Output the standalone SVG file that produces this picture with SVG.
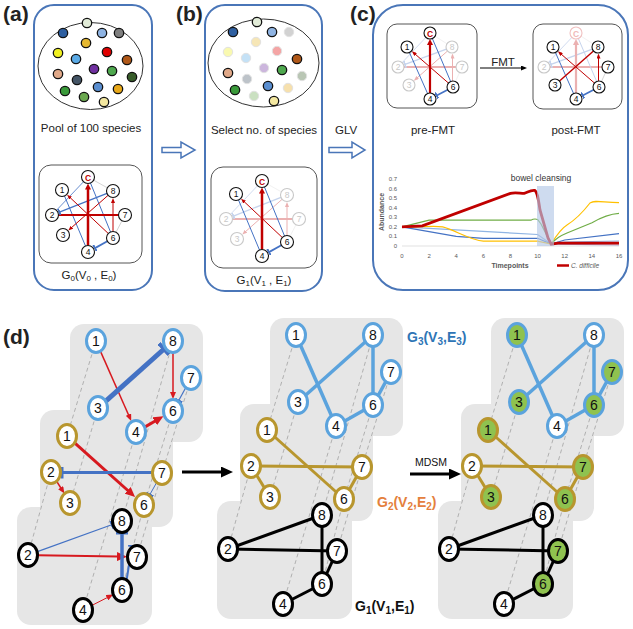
<svg xmlns="http://www.w3.org/2000/svg" width="633" height="629" viewBox="0 0 633 629">
<defs>
<style>
text{font-family:"Liberation Sans",Arial,sans-serif}
.panel{fill:none;stroke:#4a76b8;stroke-width:2}
.lbl{font-size:21px;font-weight:bold;fill:#222}
.cap{font-size:11.5px;fill:#222;text-anchor:middle}
.pool{fill:none;stroke:#333;stroke-width:1}
.dot{stroke:#111;stroke-width:1.3}
.fdot{stroke:#aaa;stroke-width:1;opacity:.35}
.ibox{fill:#fff;stroke:#555;stroke-width:1}
.sn circle{fill:#fff;stroke:#111;stroke-width:1.1}
.sn text{font-size:8.5px;text-anchor:middle;fill:#111}
.sn.c text{fill:#c00000;font-weight:bold}
.sn.f circle{stroke:#c8c8c8}
.sn.f text{fill:#c8c8c8}
.sn.fc circle{stroke:#f0c0c0}
.sn.fc text{fill:#f0b8b8;font-weight:bold}
.sr{stroke:#c00000;fill:none}
.sb{stroke:#4472c4;fill:none}
.sl{stroke:#c8c8c8;fill:none}
.box{fill:#e6e6e6}
.dash{stroke:#b0b0b0;stroke-width:1;stroke-dasharray:4 3;fill:none}
.dr{stroke:#d7191f;fill:none}
.db{stroke:#4472c4;fill:none}
.n ellipse{fill:#fff;stroke-width:3}
.n text{font-size:14px;text-anchor:middle;fill:#111}
.g3 ellipse{stroke:#5ba3dd}
.g2 ellipse{stroke:#b8962e}
.g1 ellipse{stroke:#000}
.n.gr ellipse{fill:#8fc24f}
.e3{stroke:#5ba3dd;stroke-width:3.5;fill:none}
.e2{stroke:#b8962e;stroke-width:3;fill:none}
.e1{stroke:#000;stroke-width:3;fill:none}
.tick{font-size:6px;fill:#595959}
</style>
<marker id="arS" viewBox="0 0 7 6" markerWidth="7" markerHeight="6" refX="1" refY="3" orient="auto" markerUnits="userSpaceOnUse"><path d="M0,0 L7,3 L0,6 z" fill="#d7191f"/></marker>
<marker id="arM" viewBox="0 0 10 9" markerWidth="10" markerHeight="9" refX="1" refY="4.5" orient="auto" markerUnits="userSpaceOnUse"><path d="M0,0 L10,4.5 L0,9 z" fill="#d7191f"/></marker>
<marker id="barS" viewBox="0 0 2 8" markerWidth="2" markerHeight="8" refX="1" refY="4" orient="auto" markerUnits="userSpaceOnUse"><rect x="0" y="0" width="2" height="8" fill="#4472c4"/></marker>
<marker id="barM" viewBox="0 0 3 12" markerWidth="3" markerHeight="12" refX="1.5" refY="6" orient="auto" markerUnits="userSpaceOnUse"><rect x="0" y="0" width="3" height="12" fill="#4472c4"/></marker>
<marker id="barL" viewBox="0 0 4 15" markerWidth="4" markerHeight="15" refX="2" refY="7.5" orient="auto" markerUnits="userSpaceOnUse"><rect x="0" y="0" width="4" height="15" fill="#4472c4"/></marker>
<marker id="arT" viewBox="0 0 5 4" markerWidth="5" markerHeight="4" refX="1" refY="2" orient="auto" markerUnits="userSpaceOnUse"><path d="M0,0 L5,2 L0,4 z" fill="#c00000"/></marker>
<marker id="arT2" viewBox="0 0 6 6" markerWidth="6" markerHeight="6" refX="1" refY="3" orient="auto" markerUnits="userSpaceOnUse"><path d="M0,0 L6,3 L0,6 z" fill="#c00000"/></marker>
<marker id="barT" viewBox="0 0 2 7" markerWidth="2" markerHeight="7" refX="1" refY="3.5" orient="auto" markerUnits="userSpaceOnUse"><rect x="0" y="0" width="2" height="7" fill="#4472c4"/></marker>
<marker id="arK" viewBox="0 0 12 11" markerWidth="12" markerHeight="11" refX="1" refY="5.5" orient="auto" markerUnits="userSpaceOnUse"><path d="M0,0 L12,5.5 L0,11 z" fill="#000"/></marker>
<marker id="arK2" viewBox="0 0 6 5" markerWidth="6" markerHeight="5" refX="1" refY="2.5" orient="auto" markerUnits="userSpaceOnUse"><path d="M0,0 L6,2.5 L0,5 z" fill="#000"/></marker>
</defs>
<rect width="633" height="629" fill="#fff"/>

<!-- Panel labels -->
<text class="lbl" x="3" y="21">(a)</text>
<text class="lbl" x="176" y="21">(b)</text>
<text class="lbl" x="350" y="21">(c)</text>
<text class="lbl" x="3" y="344">(d)</text>

<!-- Panel (a) -->
<g id="panel-a">
<rect class="panel" x="34" y="5" width="118" height="285" rx="20"/>
<ellipse class="pool" cx="90.5" cy="66" rx="52.5" ry="43.5"/>
<g id="pool-a">
<circle class="dot" cx="87" cy="23" r="4.7" fill="#e2ecd8"/>
<circle class="dot" cx="63" cy="33" r="4.7" fill="#2e5fa0"/>
<circle class="dot" cx="102" cy="33" r="4.7" fill="#8fb4e3"/>
<circle class="dot" cx="119" cy="33" r="4.7" fill="#7f7f7f"/>
<circle class="dot" cx="86" cy="43" r="4.7" fill="#e6b830"/>
<circle class="dot" cx="58" cy="53" r="4.7" fill="#f0f020"/>
<circle class="dot" cx="107" cy="52" r="4.7" fill="#e00000"/>
<circle class="dot" cx="127" cy="60" r="4.7" fill="#b05818"/>
<circle class="dot" cx="76" cy="59" r="4.7" fill="#5aaae6"/>
<circle class="dot" cx="94" cy="69" r="4.7" fill="#7030a0"/>
<circle class="dot" cx="112" cy="71" r="4.7" fill="#4ea84e"/>
<circle class="dot" cx="132" cy="77" r="4.7" fill="#385d2a"/>
<circle class="dot" cx="58" cy="74" r="4.7" fill="#e0a888"/>
<circle class="dot" cx="77" cy="80" r="4.7" fill="#445566"/>
<circle class="dot" cx="98" cy="87" r="4.7" fill="#5a8ed0"/>
<circle class="dot" cx="118" cy="89" r="4.7" fill="#e8a818"/>
<circle class="dot" cx="65" cy="91" r="4.7" fill="#3a9a3a"/>
<circle class="dot" cx="84" cy="97" r="4.7" fill="#6aa84f"/>
<circle class="dot" cx="104" cy="102" r="4.7" fill="#f4e8a0"/>
</g>
<text class="cap" x="91" y="132">Pool of 100 species</text>
<rect class="ibox" x="39" y="165" width="103" height="98" rx="12"/>
<g id="edges-a">
<line class="sl" x1="88" y1="177" x2="113" y2="191" stroke-width="0.8"/>
<line class="sl" x1="125" y1="215" x2="113" y2="238" stroke-width="0.8"/>
<line class="sb" x1="88" y1="177" x2="52" y2="215" stroke-width="0.8" stroke="#a8bce0"/>
<line class="sb" x1="88" y1="177" x2="113" y2="238" stroke-width="1" stroke="#7f9fd0"/>
<line class="sb" x1="62" y1="190" x2="88" y2="252" stroke-width="1" stroke="#7f9fd0"/>
<line class="sr" x1="58.5" y1="215" x2="118.5" y2="215" stroke-width="2" stroke="#d04848"/>
<line class="sb" x1="107" y1="193.4" x2="59.4" y2="212.1" stroke-width="1.2" marker-end="url(#barT)"/>
<line class="sr" x1="108.3" y1="233.5" x2="70" y2="197.5" stroke-width="1" marker-end="url(#arT)"/>
<line class="sr" x1="108.1" y1="195.3" x2="71.3" y2="227.8" stroke-width="1" marker-end="url(#arT)"/>
<line class="sr" x1="113" y1="231.5" x2="113" y2="202" stroke-width="1" marker-end="url(#arT)"/>
<line class="sr" x1="88" y1="245.5" x2="88" y2="188.5" stroke-width="2.5" marker-end="url(#arT2)"/>
<line class="sb" x1="107.3" y1="241.2" x2="95" y2="248.1" stroke-width="1.8" marker-end="url(#barT)"/>
</g>
<g id="a-nC" class="sn c"><circle cx="88" cy="177" r="6.5"/><text x="88" y="180.5">C</text></g>
<g id="a-n1" class="sn"><circle cx="62" cy="190" r="6.5"/><text x="62" y="193">1</text></g>
<g id="a-n8" class="sn"><circle cx="113" cy="191" r="6.5"/><text x="113" y="194">8</text></g>
<g id="a-n2" class="sn"><circle cx="52" cy="215" r="6.5"/><text x="52" y="218">2</text></g>
<g id="a-n7" class="sn"><circle cx="125" cy="215" r="6.5"/><text x="125" y="218">7</text></g>
<g id="a-n3" class="sn"><circle cx="63" cy="235" r="6.5"/><text x="63" y="238">3</text></g>
<g id="a-n6" class="sn"><circle cx="113" cy="238" r="6.5"/><text x="113" y="241">6</text></g>
<g id="a-n4" class="sn"><circle cx="88" cy="252" r="6.5"/><text x="88" y="255">4</text></g>
<text class="cap" x="89" y="279">G<tspan font-size="8" dy="2">0</tspan><tspan dy="-2">(V</tspan><tspan font-size="8" dy="2">0</tspan><tspan dy="-2"> , E</tspan><tspan font-size="8" dy="2">0</tspan><tspan dy="-2">)</tspan></text>
</g>

<!-- arrow a->b -->
<path id="arrow-ab" d="M162,147.5 H181 V142 L195,150 L181,158 V152.5 H162 Z" fill="#fff" stroke="#4a76b8" stroke-width="1.5"/>

<!-- Panel (b) -->
<g id="panel-b">
<rect class="panel" x="205" y="5" width="117" height="286" rx="20"/>
<ellipse class="pool" cx="263.5" cy="63" rx="55.5" ry="44"/>
<g id="pool-b" transform="translate(170,-1)">
<circle class="dot" cx="87" cy="23" r="4.7" fill="#e2ecd8"/>
<circle class="dot" cx="63" cy="33" r="4.7" fill="#2e5fa0"/>
<circle class="dot" cx="102" cy="33" r="4.7" fill="#8fb4e3"/>
<circle class="fdot" cx="119" cy="33" r="4.7" fill="#7f7f7f"/>
<circle class="fdot" cx="86" cy="43" r="4.7" fill="#e6b830"/>
<circle class="fdot" cx="58" cy="53" r="4.7" fill="#f0f020"/>
<circle class="fdot" cx="107" cy="52" r="4.7" fill="#e00000"/>
<circle class="dot" cx="127" cy="60" r="4.7" fill="#b05818"/>
<circle class="fdot" cx="76" cy="59" r="4.7" fill="#5aaae6"/>
<circle class="fdot" cx="94" cy="69" r="4.7" fill="#7030a0"/>
<circle class="dot" cx="112" cy="71" r="4.7" fill="#4ea84e"/>
<circle class="fdot" cx="132" cy="77" r="4.7" fill="#385d2a"/>
<circle class="dot" cx="58" cy="74" r="4.7" fill="#e0a888"/>
<circle class="fdot" cx="77" cy="80" r="4.7" fill="#445566"/>
<circle class="dot" cx="98" cy="87" r="4.7" fill="#5a8ed0"/>
<circle class="fdot" cx="118" cy="89" r="4.7" fill="#e8a818"/>
<circle class="dot" cx="65" cy="91" r="4.7" fill="#3a9a3a"/>
<circle class="fdot" cx="84" cy="97" r="4.7" fill="#6aa84f"/>
<circle class="dot" cx="104" cy="102" r="4.7" fill="#f4e8a0"/>
</g>
<text class="cap" x="264" y="134">Select no. of species</text>
<rect class="ibox" x="211" y="167" width="106" height="101" rx="12"/>
<g transform="translate(174,4)">
<g id="edges-b">
<g opacity="0.3">
<line class="sl" x1="88" y1="177" x2="113" y2="191" stroke-width="0.8"/>
<line class="sl" x1="125" y1="215" x2="113" y2="238" stroke-width="0.8"/>
<line class="sb" x1="88" y1="177" x2="52" y2="215" stroke-width="0.8" stroke="#a8bce0"/>
<line class="sr" x1="58.5" y1="215" x2="118.5" y2="215" stroke-width="2" stroke="#d04848"/>
<line class="sb" x1="107" y1="193.4" x2="59.4" y2="212.1" stroke-width="1.2" marker-end="url(#barT)"/>
<line class="sr" x1="108.1" y1="195.3" x2="71.3" y2="227.8" stroke-width="1" marker-end="url(#arT)"/>
<line class="sr" x1="113" y1="231.5" x2="113" y2="202" stroke-width="1" marker-end="url(#arT)"/>
</g>
<line class="sb" x1="88" y1="177" x2="113" y2="238" stroke-width="1" stroke="#6a8cc8"/>
<line class="sb" x1="62" y1="190" x2="88" y2="252" stroke-width="1" stroke="#8aa4d4"/>
<line class="sr" x1="108.3" y1="233.5" x2="70" y2="197.5" stroke-width="1" stroke="#d08080" marker-end="url(#arT)"/>
<line class="sr" x1="88" y1="245.5" x2="88" y2="188.5" stroke-width="2.5" marker-end="url(#arT2)"/>
<line class="sb" x1="107.3" y1="241.2" x2="95" y2="248.1" stroke-width="1.8" marker-end="url(#barT)"/>
</g>
<g id="b-nC" class="sn c"><circle cx="88" cy="177" r="6.5"/><text x="88" y="180.5">C</text></g>
<g id="b-n1" class="sn"><circle cx="62" cy="190" r="6.5"/><text x="62" y="193">1</text></g>
<g id="b-n8" class="sn f"><circle cx="113" cy="191" r="6.5"/><text x="113" y="194">8</text></g>
<g id="b-n2" class="sn f"><circle cx="52" cy="215" r="6.5"/><text x="52" y="218">2</text></g>
<g id="b-n7" class="sn f"><circle cx="125" cy="215" r="6.5"/><text x="125" y="218">7</text></g>
<g id="b-n3" class="sn f"><circle cx="63" cy="235" r="6.5"/><text x="63" y="238">3</text></g>
<g id="b-n6" class="sn"><circle cx="113" cy="238" r="6.5"/><text x="113" y="241">6</text></g>
<g id="b-n4" class="sn"><circle cx="88" cy="252" r="6.5"/><text x="88" y="255">4</text></g>
</g>
<text class="cap" x="264" y="284">G<tspan font-size="8" dy="2">1</tspan><tspan dy="-2">(V</tspan><tspan font-size="8" dy="2">1</tspan><tspan dy="-2"> , E</tspan><tspan font-size="8" dy="2">1</tspan><tspan dy="-2">)</tspan></text>
</g>

<!-- arrow b->c -->
<text x="335" y="134" font-size="11.5" fill="#222">GLV</text>
<path id="arrow-bc" d="M329,147.5 H352 V142 L365,150 L352,158 V152.5 H329 Z" fill="#fff" stroke="#4a76b8" stroke-width="1.5"/>

<!-- Panel (c) -->
<g id="panel-c">
<rect class="panel" x="373" y="5" width="255" height="285" rx="30"/>
<rect class="ibox" x="387" y="24" width="90" height="84" rx="10"/>
<rect class="ibox" x="533" y="24" width="89" height="85" rx="10"/>
<g id="pre-fmt">
<g id="edges-pre">
<g opacity="0.3">
<line class="sl" x1="430" y1="33" x2="452" y2="47" stroke-width="0.8"/>
<line class="sl" x1="462" y1="67" x2="453" y2="87" stroke-width="0.8"/>
<line class="sb" x1="430" y1="33" x2="398" y2="67" stroke-width="0.8" stroke="#a8bce0"/>
<line class="sr" x1="404" y1="67" x2="456" y2="67" stroke-width="2" stroke="#d04848"/>
<line class="sb" x1="446.4" y1="49.1" x2="405" y2="64.4" stroke-width="1.2" marker-end="url(#barT)"/>
<line class="sr" x1="447.5" y1="51" x2="416.9" y2="78.1" stroke-width="1" marker-end="url(#arT)"/>
<line class="sr" x1="452.5" y1="81" x2="452.5" y2="57.5" stroke-width="1" marker-end="url(#arT)"/>
</g>
<line class="sb" x1="430" y1="33" x2="453" y2="87" stroke-width="1" stroke="#6a8cc8"/>
<line class="sb" x1="407" y1="47" x2="430" y2="99" stroke-width="1" stroke="#8aa4d4"/>
<line class="sr" x1="448.5" y1="83.1" x2="414.9" y2="53.9" stroke-width="1" stroke="#d08080" marker-end="url(#arT)"/>
<line class="sr" x1="430" y1="93" x2="430" y2="44" stroke-width="2.2" marker-end="url(#arT2)"/>
<line class="sb" x1="447.7" y1="89.8" x2="436.7" y2="95.5" stroke-width="1.6" marker-end="url(#barT)"/>
</g>
<g id="pre-nC" class="sn c"><circle cx="430" cy="33" r="6"/><text x="430" y="36.5">C</text></g>
<g id="pre-n1" class="sn"><circle cx="407" cy="47" r="6"/><text x="407" y="50">1</text></g>
<g id="pre-n8" class="sn f"><circle cx="452" cy="47" r="6"/><text x="452" y="50">8</text></g>
<g id="pre-n2" class="sn f"><circle cx="398" cy="67" r="6"/><text x="398" y="70">2</text></g>
<g id="pre-n7" class="sn f"><circle cx="462" cy="67" r="6"/><text x="462" y="70">7</text></g>
<g id="pre-n3" class="sn f"><circle cx="409" cy="85" r="6"/><text x="409" y="88">3</text></g>
<g id="pre-n6" class="sn"><circle cx="453" cy="87" r="6"/><text x="453" y="90">6</text></g>
<g id="pre-n4" class="sn"><circle cx="430" cy="99" r="6"/><text x="430" y="102">4</text></g>
</g>
<g id="post-fmt" transform="translate(146,0)">
<g id="edges-post">
<g opacity="0.3">
<line class="sl" x1="430" y1="33" x2="452" y2="47" stroke-width="0.8"/>
<line class="sb" x1="430" y1="33" x2="398" y2="67" stroke-width="0.8" stroke="#a8bce0"/>
<line class="sr" x1="404" y1="67" x2="456" y2="67" stroke-width="2" stroke="#d04848"/>
<line class="sb" x1="446.4" y1="49.1" x2="405" y2="64.4" stroke-width="1.2" marker-end="url(#barT)"/>
<line class="sb" x1="430" y1="33" x2="453" y2="87" stroke-width="1" stroke="#6a8cc8"/>
<line class="sr" x1="430" y1="93" x2="430" y2="44" stroke-width="2.2" marker-end="url(#arT2)"/>
</g>
<line class="sl" x1="462" y1="67" x2="453" y2="87" stroke-width="0.8"/>
<line class="sb" x1="407" y1="47" x2="430" y2="99" stroke-width="1" stroke="#8aa4d4"/>
<line class="sr" x1="448.5" y1="83.1" x2="414.9" y2="53.9" stroke-width="1" stroke="#d08080" marker-end="url(#arT)"/>
<line class="sr" x1="447.5" y1="51" x2="413.5" y2="81" stroke-width="1.4"/>
<line class="sr" x1="452.5" y1="81" x2="452.5" y2="57.5" stroke-width="1" marker-end="url(#arT)"/>
<line class="sb" x1="447.7" y1="89.8" x2="436.7" y2="95.5" stroke-width="1.6" marker-end="url(#barT)"/>
</g>
<g id="post-nC" class="sn fc"><circle cx="430" cy="33" r="6"/><text x="430" y="36.5">C</text></g>
<g id="post-n1" class="sn"><circle cx="407" cy="47" r="6"/><text x="407" y="50">1</text></g>
<g id="post-n8" class="sn"><circle cx="452" cy="47" r="6"/><text x="452" y="50">8</text></g>
<g id="post-n2" class="sn f"><circle cx="398" cy="67" r="6"/><text x="398" y="70">2</text></g>
<g id="post-n7" class="sn"><circle cx="462" cy="67" r="6"/><text x="462" y="70">7</text></g>
<g id="post-n3" class="sn"><circle cx="409" cy="85" r="6"/><text x="409" y="88">3</text></g>
<g id="post-n6" class="sn"><circle cx="453" cy="87" r="6"/><text x="453" y="90">6</text></g>
<g id="post-n4" class="sn"><circle cx="430" cy="99" r="6"/><text x="430" y="102">4</text></g>
</g>
<text x="503" y="66" font-size="11.5" text-anchor="middle" fill="#222">FMT</text>
<line x1="480" y1="68" x2="522" y2="68" stroke="#000" stroke-width="1" marker-end="url(#arK2)"/>
<text class="cap" x="433" y="134" font-size="12">pre-FMT</text>
<text class="cap" x="576" y="134" font-size="12">post-FMT</text>

<!-- chart -->
<g id="chart">
<line x1="402" y1="246" x2="619" y2="246" stroke="#d9d9d9" stroke-width="0.8"/>
<g class="tick" text-anchor="end">
<text x="397" y="248">0</text><text x="397" y="238.4">0.1</text><text x="397" y="228.9">0.2</text><text x="397" y="219.3">0.3</text><text x="397" y="209.7">0.4</text><text x="397" y="200.2">0.5</text><text x="397" y="190.6">0.6</text><text x="397" y="181">0.7</text>
</g>
<g class="tick" text-anchor="middle">
<text x="402" y="258">0</text><text x="429.1" y="258">2</text><text x="456.2" y="258">4</text><text x="483.4" y="258">6</text><text x="510.5" y="258">8</text><text x="537.6" y="258">10</text><text x="564.7" y="258">12</text><text x="591.8" y="258">14</text><text x="619" y="258">16</text>
</g>
<text transform="translate(384,212) rotate(-90)" font-size="7" font-weight="bold" fill="#595959" text-anchor="middle">Abundance</text>
<text x="510" y="268" font-size="7" font-weight="bold" fill="#595959" text-anchor="middle">Timepoints</text>
<path d="M402,226.9 L537.6,234.5 L551.2,244.1 L564.7,242 L619,241" fill="none" stroke="#8fb4e3" stroke-width="1.2"/>
<path d="M551.2,244.1 L619,245" fill="none" stroke="#a89cc8" stroke-width="1.2"/>
<path d="M402,226.9 L456.2,236.4 L483.4,238.3 L537.6,238.3 L551.2,244.1 L564.7,240 L619,233.6" fill="none" stroke="#4472c4" stroke-width="1.2"/>
<path d="M402,226.9 C420,228 430,225 442.7,226.9 C455,230 470,240 483.4,241.2 L537.6,241.2 L551.2,244.1 C556,236 562,228 567,225 C575,220 583,212 590,203 C595,200 600,202 619,202.7" fill="none" stroke="#ffc000" stroke-width="1.2"/>
<path d="M402,226.9 L429.1,220.2 L530.8,220.2 C533,219 535,218.5 537.6,219.5 L541,224 L551.2,244.1 C556,238 560,236 567,233 L592,222.7 C600,218 608,214 619,213.3" fill="none" stroke="#70ad47" stroke-width="1.2"/>
<path d="M402,226.9 L422.3,225.9 L510.5,193.4 C515,192 520,193.4 524,193.4 C528,192 531,190 534.9,190.5 C537,192 538,196 540,210 L548,238 L551.2,244.1 L557.9,243.1 L619,243.1" fill="none" stroke="#c00000" stroke-width="2.8"/>
<rect x="537" y="186" width="17" height="60" fill="#b4c7e7" opacity="0.65"/>
<text x="541" y="181" font-size="8.5" fill="#333" text-anchor="middle">bowel cleansing</text>
<line x1="557" y1="265.5" x2="569" y2="265.5" stroke="#c00000" stroke-width="2.5"/>
<text x="571" y="268" font-size="6.5" font-style="italic" fill="#595959">C. difficile</text>
</g>
</g>

<!-- Panel (d) -->
<g id="panel-d">
<!-- left column -->
<g id="d-left">
<rect class="box" x="70" y="324" width="133" height="118" rx="14"/>
<rect class="box" x="40" y="410" width="133" height="117" rx="14"/>
<rect class="box" x="17" y="507" width="135" height="118" rx="14"/>
<g id="dash-left">
<line class="dash" x1="96" y1="341" x2="67" y2="436"/>
<line class="dash" x1="98" y1="408" x2="70" y2="503"/>
<line class="dash" x1="173" y1="411" x2="144" y2="505"/>
<line class="dash" x1="191" y1="378" x2="162" y2="473"/>
<line class="dash" x1="173" y1="341" x2="122" y2="521"/>
<line class="dash" x1="136" y1="432" x2="83" y2="610"/>
<line class="dash" x1="51" y1="472" x2="28" y2="555"/>
<line class="dash" x1="144" y1="505" x2="122" y2="590"/>
<line class="dash" x1="162" y1="473" x2="137" y2="557"/>
</g>
<g id="edges-left">
<line class="dr" x1="100.4" y1="351.1" x2="128.8" y2="415.5" stroke-width="1.5" marker-end="url(#arS)"/>
<line class="db" x1="105.5" y1="401.3" x2="164" y2="349" stroke-width="5" marker-end="url(#barL)"/>
<line class="dr" x1="173" y1="352" x2="173" y2="393" stroke-width="1.5" marker-end="url(#arS)"/>
<line class="db" x1="185.7" y1="387.7" x2="178.7" y2="400.5" stroke-width="1.2" marker-end="url(#barS)"/>
<line class="dr" x1="144.7" y1="427.1" x2="155.6" y2="420.8" stroke-width="3" marker-end="url(#arM)"/>
<line class="dr" x1="75.2" y1="443.3" x2="128.4" y2="491" stroke-width="3" marker-end="url(#arM)"/>
<line class="db" x1="152" y1="472.5" x2="62" y2="472.5" stroke-width="3" marker-end="url(#barM)"/>
<line class="dr" x1="56.7" y1="481.4" x2="61.2" y2="488.5" stroke-width="1.5" marker-end="url(#arS)"/>
<line class="db" x1="156.6" y1="482.6" x2="149.9" y2="494.5" stroke-width="1" marker-end="url(#barS)"/>
<line class="db" x1="37.4" y1="551.6" x2="111.7" y2="524.7" stroke-width="1.2" marker-end="url(#barS)"/>
<line class="dr" x1="38" y1="555.2" x2="118" y2="556.6" stroke-width="2" marker-end="url(#arM)"/>
<line class="db" x1="122" y1="579" x2="122" y2="533" stroke-width="3.5" marker-end="url(#barM)"/>
<line class="db" x1="126.6" y1="580" x2="132" y2="546.1" stroke-width="2" marker-end="url(#barS)"/>
<line class="dr" x1="91.9" y1="605.4" x2="107.8" y2="597.3" stroke-width="1" marker-end="url(#arS)"/>
</g>
<g id="L-g3-n1" class="n g3"><ellipse cx="96" cy="341" rx="9.5" ry="11.5"/><text x="96" y="346">1</text></g>
<g id="L-g3-n8" class="n g3"><ellipse cx="173" cy="341" rx="9.5" ry="11.5"/><text x="173" y="346">8</text></g>
<g id="L-g3-n7" class="n g3"><ellipse cx="191" cy="378" rx="9.5" ry="11.5"/><text x="191" y="383">7</text></g>
<g id="L-g3-n3" class="n g3"><ellipse cx="98" cy="408" rx="9.5" ry="11.5"/><text x="98" y="413">3</text></g>
<g id="L-g3-n6" class="n g3"><ellipse cx="173" cy="411" rx="9.5" ry="11.5"/><text x="173" y="416">6</text></g>
<g id="L-g3-n4" class="n g3"><ellipse cx="136" cy="432" rx="9.5" ry="11.5"/><text x="136" y="437">4</text></g>
<g id="L-g2-n1" class="n g2"><ellipse cx="67" cy="436" rx="9.5" ry="11.5"/><text x="67" y="441">1</text></g>
<g id="L-g2-n2" class="n g2"><ellipse cx="51" cy="472" rx="9.5" ry="11.5"/><text x="51" y="477">2</text></g>
<g id="L-g2-n7" class="n g2"><ellipse cx="162" cy="473" rx="9.5" ry="11.5"/><text x="162" y="478">7</text></g>
<g id="L-g2-n3" class="n g2"><ellipse cx="70" cy="503" rx="9.5" ry="11.5"/><text x="70" y="508">3</text></g>
<g id="L-g2-n6" class="n g2"><ellipse cx="144" cy="505" rx="9.5" ry="11.5"/><text x="144" y="510">6</text></g>
<g id="L-g1-n8" class="n g1"><ellipse cx="122" cy="521" rx="9.5" ry="11.5"/><text x="122" y="526">8</text></g>
<g id="L-g1-n2" class="n g1"><ellipse cx="28" cy="555" rx="9.5" ry="11.5"/><text x="28" y="560">2</text></g>
<g id="L-g1-n7" class="n g1"><ellipse cx="137" cy="557" rx="9.5" ry="11.5"/><text x="137" y="562">7</text></g>
<g id="L-g1-n6" class="n g1"><ellipse cx="122" cy="590" rx="9.5" ry="11.5"/><text x="122" y="595">6</text></g>
<g id="L-g1-n4" class="n g1"><ellipse cx="83" cy="610" rx="9.5" ry="11.5"/><text x="83" y="615">4</text></g>
</g>

<line id="arrow-lm" x1="182" y1="472" x2="222" y2="472" stroke="#000" stroke-width="3" marker-end="url(#arK)"/>

<!-- middle column -->
<g id="d-mid" transform="translate(200,-6)">
<rect class="box" x="70" y="324" width="133" height="118" rx="14"/>
<rect class="box" x="40" y="410" width="133" height="117" rx="14"/>
<rect class="box" x="17" y="507" width="135" height="118" rx="14"/>
<g id="dash-mid">
<line class="dash" x1="96" y1="341" x2="67" y2="436"/>
<line class="dash" x1="98" y1="408" x2="70" y2="503"/>
<line class="dash" x1="173" y1="411" x2="144" y2="505"/>
<line class="dash" x1="191" y1="378" x2="162" y2="473"/>
<line class="dash" x1="173" y1="341" x2="122" y2="521"/>
<line class="dash" x1="136" y1="432" x2="83" y2="610"/>
<line class="dash" x1="51" y1="472" x2="28" y2="555"/>
<line class="dash" x1="144" y1="505" x2="122" y2="590"/>
<line class="dash" x1="162" y1="473" x2="137" y2="557"/>
</g>
<g id="edges-mid">
<line class="e3" x1="96" y1="341" x2="136" y2="432"/>
<line class="e3" x1="98" y1="408" x2="173" y2="341"/>
<line class="e3" x1="173" y1="341" x2="173" y2="411"/>
<line class="e3" x1="191" y1="378" x2="173" y2="411"/>
<line class="e3" x1="136" y1="432" x2="173" y2="411"/>
<line class="e2" x1="67" y1="436" x2="144" y2="505"/>
<line class="e2" x1="51" y1="472" x2="162" y2="473"/>
<line class="e2" x1="51" y1="472" x2="70" y2="503"/>
<line class="e2" x1="162" y1="473" x2="144" y2="505"/>
<line class="e1" x1="28" y1="555" x2="122" y2="521"/>
<line class="e1" x1="28" y1="555" x2="137" y2="557"/>
<line class="e1" x1="122" y1="521" x2="122" y2="590"/>
<line class="e1" x1="137" y1="557" x2="122" y2="590"/>
<line class="e1" x1="83" y1="610" x2="122" y2="590"/>
</g>
<g id="M-g3-n1" class="n g3"><ellipse cx="96" cy="341" rx="9.5" ry="11.5"/><text x="96" y="346">1</text></g>
<g id="M-g3-n8" class="n g3"><ellipse cx="173" cy="341" rx="9.5" ry="11.5"/><text x="173" y="346">8</text></g>
<g id="M-g3-n7" class="n g3"><ellipse cx="191" cy="378" rx="9.5" ry="11.5"/><text x="191" y="383">7</text></g>
<g id="M-g3-n3" class="n g3"><ellipse cx="98" cy="408" rx="9.5" ry="11.5"/><text x="98" y="413">3</text></g>
<g id="M-g3-n6" class="n g3"><ellipse cx="173" cy="411" rx="9.5" ry="11.5"/><text x="173" y="416">6</text></g>
<g id="M-g3-n4" class="n g3"><ellipse cx="136" cy="432" rx="9.5" ry="11.5"/><text x="136" y="437">4</text></g>
<g id="M-g2-n1" class="n g2"><ellipse cx="67" cy="436" rx="9.5" ry="11.5"/><text x="67" y="441">1</text></g>
<g id="M-g2-n2" class="n g2"><ellipse cx="51" cy="472" rx="9.5" ry="11.5"/><text x="51" y="477">2</text></g>
<g id="M-g2-n7" class="n g2"><ellipse cx="162" cy="473" rx="9.5" ry="11.5"/><text x="162" y="478">7</text></g>
<g id="M-g2-n3" class="n g2"><ellipse cx="70" cy="503" rx="9.5" ry="11.5"/><text x="70" y="508">3</text></g>
<g id="M-g2-n6" class="n g2"><ellipse cx="144" cy="505" rx="9.5" ry="11.5"/><text x="144" y="510">6</text></g>
<g id="M-g1-n8" class="n g1"><ellipse cx="122" cy="521" rx="9.5" ry="11.5"/><text x="122" y="526">8</text></g>
<g id="M-g1-n2" class="n g1"><ellipse cx="28" cy="555" rx="9.5" ry="11.5"/><text x="28" y="560">2</text></g>
<g id="M-g1-n7" class="n g1"><ellipse cx="137" cy="557" rx="9.5" ry="11.5"/><text x="137" y="562">7</text></g>
<g id="M-g1-n6" class="n g1"><ellipse cx="122" cy="590" rx="9.5" ry="11.5"/><text x="122" y="595">6</text></g>
<g id="M-g1-n4" class="n g1"><ellipse cx="83" cy="610" rx="9.5" ry="11.5"/><text x="83" y="615">4</text></g>
</g>

<text x="407" y="342" font-size="14" font-weight="bold" fill="#2e75b6">G<tspan font-size="10" dy="3">3</tspan><tspan dy="-3">(V</tspan><tspan font-size="10" dy="3">3</tspan><tspan dy="-3">,E</tspan><tspan font-size="10" dy="3">3</tspan><tspan dy="-3">)</tspan></text>
<text x="377" y="507" font-size="14" font-weight="bold" fill="#e4803c">G<tspan font-size="10" dy="3">2</tspan><tspan dy="-3">(V</tspan><tspan font-size="10" dy="3">2</tspan><tspan dy="-3">,E</tspan><tspan font-size="10" dy="3">2</tspan><tspan dy="-3">)</tspan></text>
<text x="355" y="611" font-size="14" font-weight="bold" fill="#111">G<tspan font-size="10" dy="3">1</tspan><tspan dy="-3">(V</tspan><tspan font-size="10" dy="3">1</tspan><tspan dy="-3">,E</tspan><tspan font-size="10" dy="3">1</tspan><tspan dy="-3">)</tspan></text>

<text x="431" y="466" font-size="10.5" text-anchor="middle" fill="#111">MDSM</text>
<line id="arrow-mr" x1="410" y1="474" x2="450" y2="474" stroke="#000" stroke-width="3" marker-end="url(#arK)"/>

<!-- right column -->
<g id="d-right" transform="translate(421,-6)">
<rect class="box" x="70" y="324" width="133" height="118" rx="14"/>
<rect class="box" x="40" y="410" width="133" height="117" rx="14"/>
<rect class="box" x="17" y="507" width="135" height="118" rx="14"/>
<g id="dash-right">
<line class="dash" x1="96" y1="341" x2="67" y2="436"/>
<line class="dash" x1="98" y1="408" x2="70" y2="503"/>
<line class="dash" x1="173" y1="411" x2="144" y2="505"/>
<line class="dash" x1="191" y1="378" x2="162" y2="473"/>
<line class="dash" x1="173" y1="341" x2="122" y2="521"/>
<line class="dash" x1="136" y1="432" x2="83" y2="610"/>
<line class="dash" x1="51" y1="472" x2="28" y2="555"/>
<line class="dash" x1="144" y1="505" x2="122" y2="590"/>
<line class="dash" x1="162" y1="473" x2="137" y2="557"/>
</g>
<g id="edges-right">
<line class="e3" x1="96" y1="341" x2="136" y2="432"/>
<line class="e3" x1="98" y1="408" x2="173" y2="341"/>
<line class="e3" x1="173" y1="341" x2="173" y2="411"/>
<line class="e3" x1="191" y1="378" x2="173" y2="411"/>
<line class="e3" x1="136" y1="432" x2="173" y2="411"/>
<line class="e2" x1="67" y1="436" x2="144" y2="505"/>
<line class="e2" x1="51" y1="472" x2="162" y2="473"/>
<line class="e2" x1="51" y1="472" x2="70" y2="503"/>
<line class="e2" x1="162" y1="473" x2="144" y2="505"/>
<line class="e1" x1="28" y1="555" x2="122" y2="521"/>
<line class="e1" x1="28" y1="555" x2="137" y2="557"/>
<line class="e1" x1="122" y1="521" x2="122" y2="590"/>
<line class="e1" x1="137" y1="557" x2="122" y2="590"/>
<line class="e1" x1="83" y1="610" x2="122" y2="590"/>
</g>
<g id="R-g3-n1" class="n g3 gr"><ellipse cx="96" cy="341" rx="9.5" ry="11.5"/><text x="96" y="346">1</text></g>
<g id="R-g3-n8" class="n g3"><ellipse cx="173" cy="341" rx="9.5" ry="11.5"/><text x="173" y="346">8</text></g>
<g id="R-g3-n7" class="n g3 gr"><ellipse cx="191" cy="378" rx="9.5" ry="11.5"/><text x="191" y="383">7</text></g>
<g id="R-g3-n3" class="n g3 gr"><ellipse cx="98" cy="408" rx="9.5" ry="11.5"/><text x="98" y="413">3</text></g>
<g id="R-g3-n6" class="n g3 gr"><ellipse cx="173" cy="411" rx="9.5" ry="11.5"/><text x="173" y="416">6</text></g>
<g id="R-g3-n4" class="n g3"><ellipse cx="136" cy="432" rx="9.5" ry="11.5"/><text x="136" y="437">4</text></g>
<g id="R-g2-n1" class="n g2 gr"><ellipse cx="67" cy="436" rx="9.5" ry="11.5"/><text x="67" y="441">1</text></g>
<g id="R-g2-n2" class="n g2"><ellipse cx="51" cy="472" rx="9.5" ry="11.5"/><text x="51" y="477">2</text></g>
<g id="R-g2-n7" class="n g2 gr"><ellipse cx="162" cy="473" rx="9.5" ry="11.5"/><text x="162" y="478">7</text></g>
<g id="R-g2-n3" class="n g2 gr"><ellipse cx="70" cy="503" rx="9.5" ry="11.5"/><text x="70" y="508">3</text></g>
<g id="R-g2-n6" class="n g2 gr"><ellipse cx="144" cy="505" rx="9.5" ry="11.5"/><text x="144" y="510">6</text></g>
<g id="R-g1-n8" class="n g1"><ellipse cx="122" cy="521" rx="9.5" ry="11.5"/><text x="122" y="526">8</text></g>
<g id="R-g1-n2" class="n g1"><ellipse cx="28" cy="555" rx="9.5" ry="11.5"/><text x="28" y="560">2</text></g>
<g id="R-g1-n7" class="n g1 gr"><ellipse cx="137" cy="557" rx="9.5" ry="11.5"/><text x="137" y="562">7</text></g>
<g id="R-g1-n6" class="n g1 gr"><ellipse cx="122" cy="590" rx="9.5" ry="11.5"/><text x="122" y="595">6</text></g>
<g id="R-g1-n4" class="n g1"><ellipse cx="83" cy="610" rx="9.5" ry="11.5"/><text x="83" y="615">4</text></g>
</g>
</g>
</svg>
